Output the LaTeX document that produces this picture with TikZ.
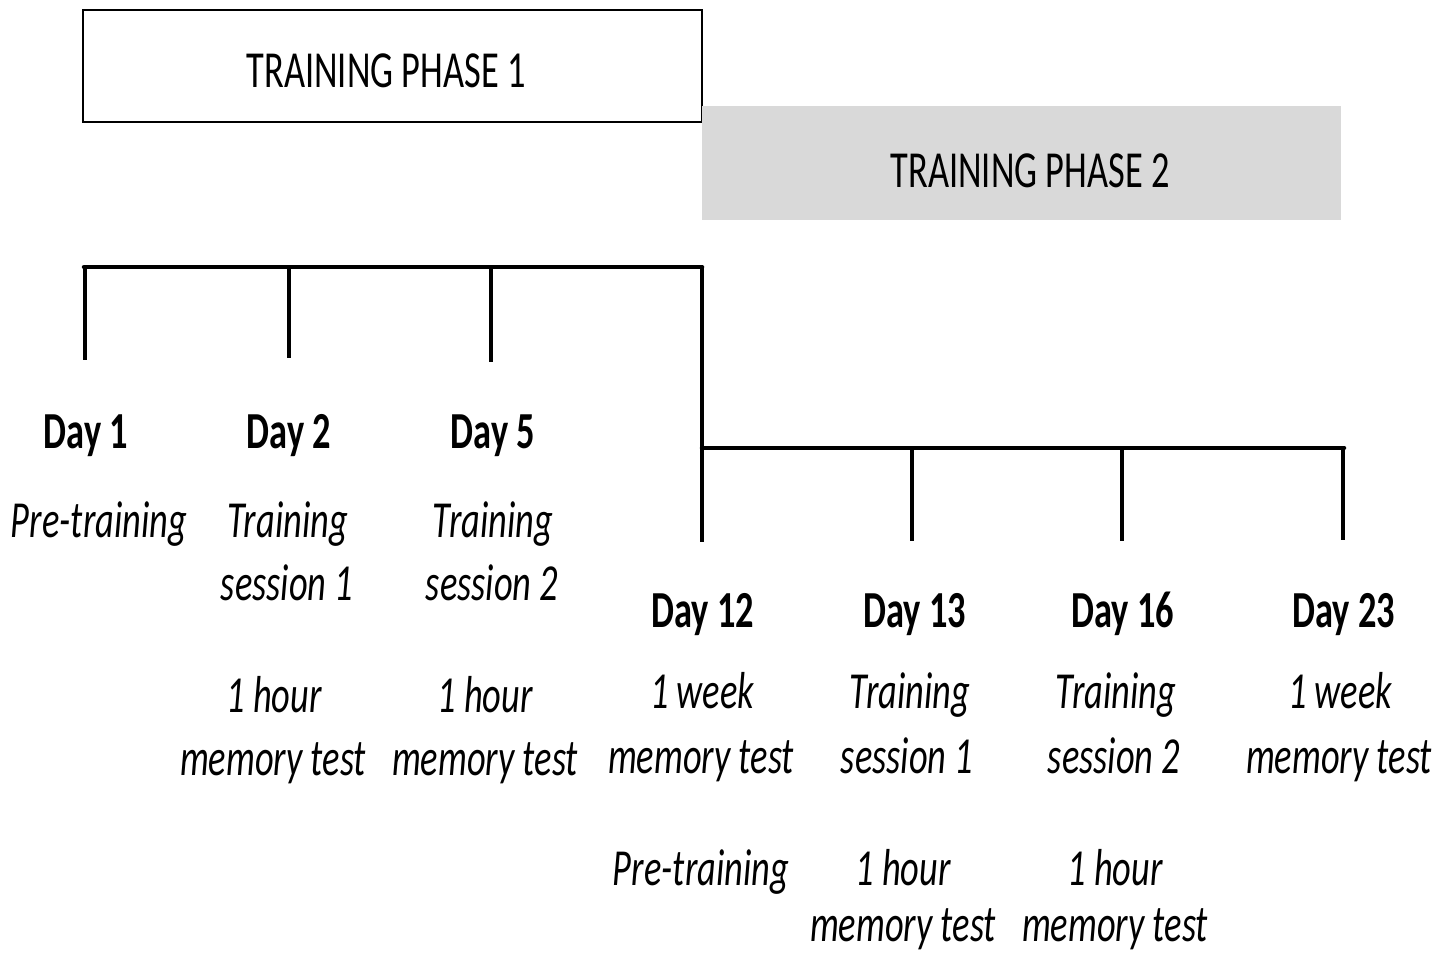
\documentclass[tikz,border=0pt]{standalone}
\usepackage{fontspec}
\setmainfont{Carlito}[FakeStretch=0.7]
\begin{document}
\begin{tikzpicture}[x=1pt,y=-1pt,
  lbl/.style={anchor=base,inner sep=0pt,font=\fontsize{52}{60}\selectfont},
  daylbl/.style={lbl,font=\fontsize{52}{60}\selectfont\bfseries},
  note/.style={lbl,font=\fontsize{52}{60}\selectfont\itshape},
  axis/.style={line width=4.5pt,line cap=round},
  tick/.style={line width=3.2pt},
]
\useasboundingbox (0,0) rectangle (1450,955);

% phase boxes
\node[draw,line width=2pt,fill=white,minimum width=619pt,minimum height=112pt,inner sep=0pt] (ph1) at (392.5,66) {};
\node[lbl] (ph1t) at (386,88) {TRAINING PHASE 1};
\node[fill={rgb,255:red,217;green,217;blue,217},minimum width=639pt,minimum height=114pt,inner sep=0pt] (ph2) at (1021.5,163) {};
\node[lbl] (ph2t) at (1030,187) {TRAINING PHASE 2};

% timeline of phase 1
\coordinate (a0) at (84,267);
\coordinate (a1) at (289,267);
\coordinate (a2) at (491,267);
\coordinate (a3) at (702,267);
\coordinate (a0e) at (85,360);
\coordinate (a1e) at (289,358);
\coordinate (a2e) at (491,362);
\coordinate (b0) at (702,448);
\coordinate (b0e) at (702,542);
\draw[axis] (a0) -- (a3);
\draw[tick] (85,267) -- (a0e);
\draw[tick] (a1) -- (a1e);
\draw[tick] (a2) -- (a2e);
\draw[tick] (a3) -- (b0e);

% timeline of phase 2
\coordinate (b1) at (912,448);
\coordinate (b2) at (1122,448);
\coordinate (b3) at (1344,448);
\coordinate (b1e) at (912,541);
\coordinate (b2e) at (1122,541);
\coordinate (b3e) at (1343,540);
\draw[axis] (b0) -- (b3);
\draw[tick] (b1) -- (b1e);
\draw[tick] (b2) -- (b2e);
\draw[tick] (1343,448) -- (b3e);

% phase 1 labels
\node[daylbl] (d1) at (86,448) {Day 1};
\node[daylbl] (d2) at (289,448) {Day 2};
\node[daylbl] (d5) at (493,448) {Day 5};
\node[note] (d1a) at (99,537) {Pre-training};
\node[note] (d2a) at (288,537) {Training};
\node[note] (d2b) at (287,600) {session 1};
\node[note] (d2c) at (274,712) {1 hour};
\node[note] (d2d) at (273,775) {memory test};
\node[note] (d5a) at (493,537) {Training};
\node[note] (d5b) at (492,600) {session 2};
\node[note] (d5c) at (485,712) {1 hour};
\node[note] (d5d) at (485,775) {memory test};

% phase 2 labels
\node[daylbl] (d12) at (703,627) {Day 12};
\node[daylbl] (d13) at (915,627) {Day 13};
\node[daylbl] (d16) at (1123,627) {Day 16};
\node[daylbl] (d23) at (1344,627) {Day 23};
\node[note] (d12a) at (702,708) {1 week};
\node[note] (d12b) at (701,773) {memory test};
\node[note] (d12c) at (701,885) {Pre-training};
\node[note] (d13a) at (910,708) {Training};
\node[note] (d13b) at (907,773) {session 1};
\node[note] (d13c) at (903,885) {1 hour};
\node[note] (d13d) at (903,941) {memory test};
\node[note] (d16a) at (1116,708) {Training};
\node[note] (d16b) at (1114,773) {session 2};
\node[note] (d16c) at (1115,885) {1 hour};
\node[note] (d16d) at (1115,941) {memory test};
\node[note] (d23a) at (1340,708) {1 week};
\node[note] (d23b) at (1339,773) {memory test};
\end{tikzpicture}
\end{document}
